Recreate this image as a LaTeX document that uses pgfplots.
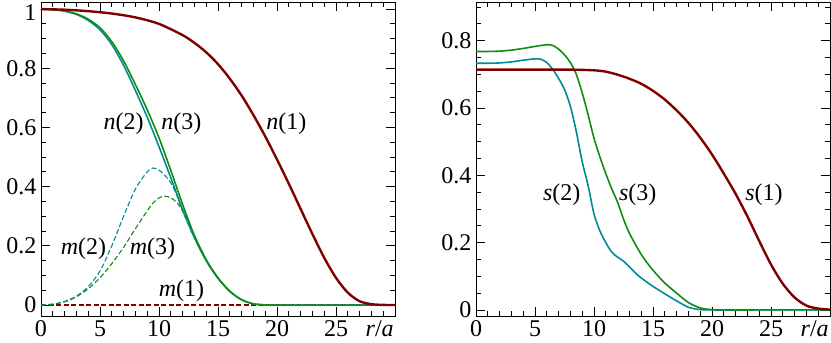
\documentclass[border=0pt]{standalone}
\usepackage{fontspec}
\setmainfont{Liberation Serif}
\usepackage{pgfplots}
\pgfplotsset{compat=1.18}
\definecolor{dred}{RGB}{128,0,0}
\definecolor{tealc}{RGB}{0,138,150}
\definecolor{grn}{RGB}{16,140,16}
\newcommand\lf{\fontsize{24bp}{28bp}\selectfont}
\pgfplotsset{myax/.style={
  scale only axis, width=354bp, height=314bp,
  xmin=0, xmax=30, xtick={0,5,10,15,20,25},
  minor xtick={1,2,3,4,6,7,8,9,11,12,13,14,16,17,18,19,21,22,23,24,26,27,28,29},
  tick align=inside, xtick pos=both, ytick pos=both,
  major tick length=9bp, minor tick length=5bp,
  every tick/.style={line width=0.8pt, black},
  axis line style={line width=0.8pt},
  /pgf/number format/assume math mode=true,
  /pgf/number format/fixed,
  tick label style={font=\lf},
  xticklabel style={yshift=-1bp},
  yticklabel style={xshift=-1bp},
  extra x ticks={28.7}, extra x tick labels={\textit{r}/\textit{a}},
  extra x tick style={major tick length=0pt},
}}
\begin{document}
\begin{tikzpicture}
\begin{axis}[myax, at={(41bp,27bp)}, anchor=south west,
  ymin=-0.037, ymax=1.024,
  ytick={0,0.2,0.4,0.6,0.8}, yticklabels={0,0.2,0.4,0.6,0.8},
  extra y ticks={1}, extra y tick labels={1},
  extra y tick style={yticklabel style={yshift=-3bp}},
  minor ytick={0.05,0.1,0.15,0.25,0.3,0.35,0.45,0.5,0.55,0.65,0.7,0.75,0.85,0.9,0.95}]
% m(1)
\addplot[dred, line width=1.2pt, dash pattern=on 5bp off 2.5bp] coordinates {(0,0) (30,0)};
% m(2)
\addplot[tealc, line width=1.1pt, dash pattern=on 5bp off 2.5bp, smooth] coordinates {
(0,0) (1,0.003) (2,0.012) (3,0.030) (4,0.062) (5,0.115) (6,0.200) (7,0.300) (8,0.392) (9,0.450) (9.5,0.463) (10,0.456) (10.5,0.438) (11,0.413) (11.5,0.372) (12,0.318) (13,0.227) (14,0.150) (15,0.090) (16,0.046) (17,0.018) (18,0.004) (19,0.0005) (20,0) (25,0) (30,0)};
% m(3)
\addplot[grn, line width=1.1pt, dash pattern=on 5bp off 2.5bp, smooth] coordinates {
(0,0) (1,0.003) (2,0.011) (3,0.028) (4,0.055) (5,0.092) (6,0.140) (7,0.195) (8,0.258) (9,0.318) (9.5,0.345) (10,0.362) (10.5,0.368) (11,0.362) (11.5,0.347) (12,0.318) (12.5,0.282) (13,0.234) (14,0.153) (15,0.092) (16,0.047) (17,0.018) (18,0.004) (19,0.0005) (20,0) (25,0) (30,0)};
% n(2)
\addplot[tealc, line width=1.6pt, smooth] coordinates {
(0,1.000) (1,0.998) (2,0.993) (3,0.982) (4,0.962) (5,0.930) (6,0.880) (7,0.810) (8,0.725) (9,0.635) (10,0.535) (11,0.430) (12,0.322) (13,0.228) (14,0.150) (15,0.090) (16,0.046) (17,0.018) (18,0.004) (19,0.0005) (20,0) (25,0) (30,0)};
% n(3)
\addplot[grn, line width=1.6pt, smooth] coordinates {
(0,1.000) (1,0.998) (2,0.994) (3,0.984) (4,0.966) (5,0.937) (6,0.890) (7,0.825) (8,0.745) (9,0.660) (10,0.565) (11,0.455) (12,0.340) (13,0.235) (14,0.153) (15,0.092) (16,0.047) (17,0.018) (18,0.004) (19,0.0005) (20,0) (25,0) (30,0)};
% n(1)
\addplot[dred, line width=2.4pt, smooth] coordinates {
(0,1.000) (2,0.998) (4,0.993) (6,0.985) (8,0.972) (10,0.950) (12,0.912) (13,0.886) (14,0.854) (15,0.814) (16,0.765) (17,0.708) (18,0.642) (19,0.570) (20,0.492) (21,0.410) (22,0.325) (23,0.240) (24,0.160) (25,0.092) (26,0.042) (27,0.013) (28,0.003) (29,0.0005) (30,0)};
\node[font=\lf] at (axis cs:7.0,0.612) {\textit{n}(2)};
\node[font=\lf] at (axis cs:11.9,0.612) {\textit{n}(3)};
\node[font=\lf] at (axis cs:20.8,0.612) {\textit{n}(1)};
\node[font=\lf] at (axis cs:3.6,0.19) {\textit{m}(2)};
\node[font=\lf] at (axis cs:9.45,0.19) {\textit{m}(3)};
\node[font=\lf] at (axis cs:11.9,0.05) {\textit{m}(1)};
\end{axis}
\begin{axis}[myax, at={(476bp,27bp)}, anchor=south west,
  ymin=-0.018, ymax=0.915,
  ytick={0,0.2,0.4,0.6,0.8}, yticklabels={0,0.2,0.4,0.6,0.8},
  minor ytick={0.05,0.1,0.15,0.25,0.3,0.35,0.45,0.5,0.55,0.65,0.7,0.75,0.85,0.9}]
% s(2)
\addplot[tealc, line width=1.6pt, smooth] coordinates {
(0,0.733) (1,0.733) (2,0.734) (3,0.737) (4,0.742) (5,0.746) (5.5,0.745) (6,0.735) (6.5,0.715) (7,0.688) (7.5,0.655) (8,0.605) (8.5,0.530) (9,0.440) (9.5,0.370) (10,0.285) (10.5,0.235) (11,0.200) (11.5,0.172) (12,0.157) (12.5,0.145) (13,0.128) (13.5,0.110) (14,0.095) (15,0.070) (16,0.048) (17,0.027) (18,0.008) (19,0.001) (20,0) (25,0) (30,0)};
% s(3)
\addplot[grn, line width=1.6pt, smooth] coordinates {
(0,0.768) (1,0.768) (2,0.769) (3,0.772) (4,0.777) (5,0.783) (6,0.788) (6.5,0.786) (7,0.775) (7.5,0.758) (8,0.735) (8.5,0.700) (9,0.645) (9.5,0.580) (10,0.510) (10.5,0.455) (11,0.405) (11.5,0.360) (12,0.320) (12.5,0.270) (13,0.228) (14,0.165) (15,0.118) (16,0.080) (17,0.050) (18,0.022) (19,0.006) (20,0.001) (21,0) (25,0) (30,0)};
% s(1)
\addplot[dred, line width=2.4pt, smooth] coordinates {
(0,0.714) (5,0.714) (8,0.714) (10,0.712) (11,0.708) (12,0.699) (13,0.687) (14,0.672) (15,0.651) (16,0.625) (17,0.593) (18,0.556) (19,0.512) (20,0.462) (21,0.405) (22,0.345) (23,0.278) (24,0.205) (25,0.135) (26,0.078) (27,0.037) (28,0.013) (29,0.004) (30,0.001)};
\node[font=\lf] at (axis cs:7.26,0.342) {\textit{s}(2)};
\node[font=\lf] at (axis cs:13.7,0.342) {\textit{s}(3)};
\node[font=\lf] at (axis cs:24.4,0.342) {\textit{s}(1)};
\end{axis}
\pgfresetboundingbox
\useasboundingbox (0,0) rectangle (831bp,343bp);
\end{tikzpicture}
\end{document}
